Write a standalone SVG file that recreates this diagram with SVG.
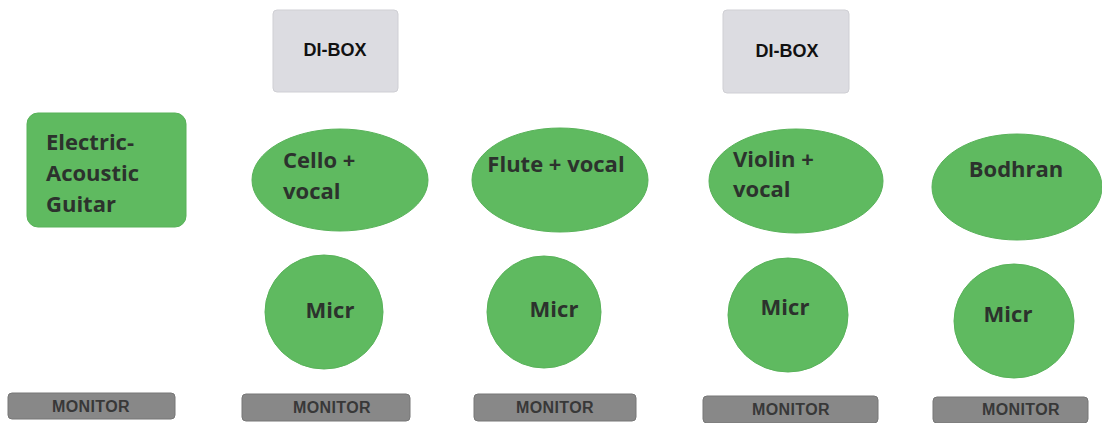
<svg xmlns="http://www.w3.org/2000/svg" width="1102" height="423" viewBox="0 0 1102 423">
<style>
.g{fill:#5fba60;stroke:#58b259;stroke-width:1}
.di{fill:#dcdce1;stroke:#cfcfd4;stroke-width:1}
.mon{fill:#888888;stroke:#777777;stroke-width:1}
.t{font-family:"Open Sans","Noto Sans",sans-serif;font-weight:700;font-size:22px;fill:#2c322d}
.c{text-anchor:middle}
.dt{font-family:"Liberation Sans",Arial,sans-serif;font-weight:700;font-size:18px;fill:#111;text-anchor:middle}
.mt{font-family:"Liberation Sans",Arial,sans-serif;font-weight:700;font-size:16px;fill:#383838;text-anchor:middle;letter-spacing:0.4px}
</style>
<rect width="1102" height="423" fill="#ffffff"/>
<g id="connectors"></g>
<g id="dibox1"><rect class="di" x="273" y="10" width="125" height="82" rx="4"/><text class="dt" x="335" y="56">DI-BOX</text></g>
<g id="dibox2"><rect class="di" x="723" y="10" width="126" height="83" rx="4"/><text class="dt" x="787" y="57">DI-BOX</text></g>
<g id="guitar"><rect class="g" x="27" y="113" width="159" height="114" rx="11"/><text class="t" x="46" y="150">Electric-</text><text class="t" x="46" y="181">Acoustic</text><text class="t" x="46" y="212">Guitar</text></g>
<g id="cello"><ellipse class="g" cx="340" cy="180" rx="88" ry="51"/><text class="t" x="283" y="168">Cello +</text><text class="t" x="283" y="199">vocal</text></g>
<g id="flute"><ellipse class="g" cx="560" cy="180" rx="88" ry="52"/><text class="t c" x="556" y="172">Flute + vocal</text></g>
<g id="violin"><ellipse class="g" cx="796" cy="181" rx="87" ry="52"/><text class="t" x="733" y="167">Violin +</text><text class="t" x="733" y="197">vocal</text></g>
<g id="bodhran"><ellipse class="g" cx="1017" cy="187" rx="85" ry="53"/><text class="t c" x="1016" y="177">Bodhran</text></g>
<g id="mic1"><ellipse class="g" cx="324" cy="312" rx="59" ry="57"/><text class="t c" x="330" y="318">Micr</text></g>
<g id="mic2"><ellipse class="g" cx="544" cy="312" rx="57" ry="56"/><text class="t c" x="554" y="317">Micr</text></g>
<g id="mic3"><ellipse class="g" cx="788" cy="315" rx="60" ry="57"/><text class="t c" x="785" y="315">Micr</text></g>
<g id="mic4"><ellipse class="g" cx="1014" cy="321" rx="60" ry="57"/><text class="t c" x="1008" y="322">Micr</text></g>
<g id="monitor1"><rect class="mon" x="8" y="393" width="167" height="26" rx="4"/><text class="mt" x="91" y="412">MONITOR</text></g>
<g id="monitor2"><rect class="mon" x="242" y="394" width="168" height="27" rx="4"/><text class="mt" x="332" y="413">MONITOR</text></g>
<g id="monitor3"><rect class="mon" x="474" y="394" width="162" height="27" rx="4"/><text class="mt" x="555" y="413">MONITOR</text></g>
<g id="monitor4"><rect class="mon" x="703" y="396" width="175" height="27" rx="4"/><text class="mt" x="791" y="415">MONITOR</text></g>
<g id="monitor5"><rect class="mon" x="933" y="397" width="155" height="26" rx="4"/><text class="mt" x="1021" y="415">MONITOR</text></g>
</svg>
